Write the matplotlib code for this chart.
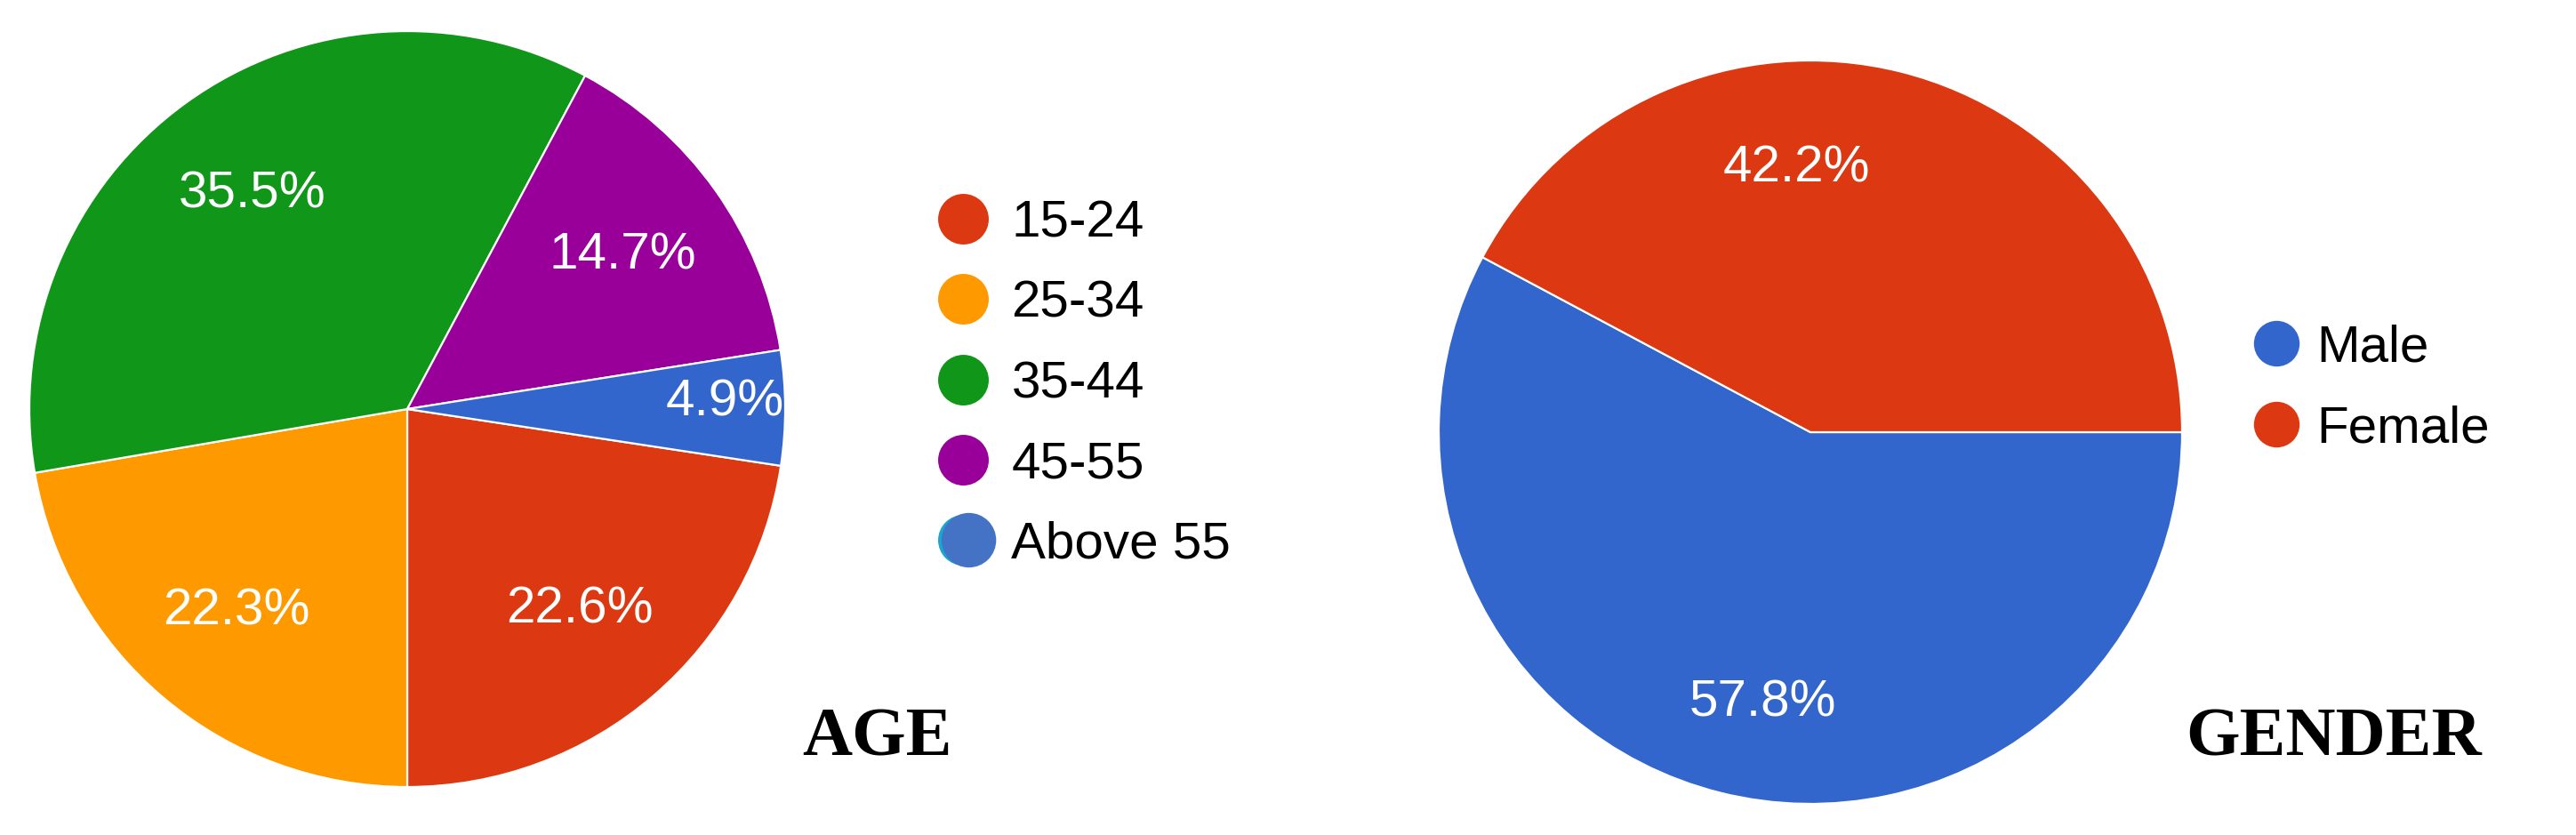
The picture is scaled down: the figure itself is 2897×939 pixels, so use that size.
import numpy as np
import matplotlib.pyplot as plt
from matplotlib.lines import Line2D
from matplotlib.path import Path
from matplotlib.legend_handler import HandlerTuple

plt.rcParams['font.family'] = ['Liberation Sans', 'DejaVu Sans']

# Age data (legend order)
age_labels = ['15-24', '25-34', '35-44', '45-55', 'Above 55']
age_pct = [22.6, 22.3, 35.5, 14.7, 4.9]
age_colors = ['#DC3912', '#FF9900', '#109618', '#990099', '#3366CC']

# Gender data
gender_labels = ['Male', 'Female']
gender_pct = [57.8, 42.2]
gender_colors = ['#3366CC', '#DC3912']

W, H = 2897, 939
fig = plt.figure(figsize=(W / 100, H / 100), dpi=100)


def px_axes(cx, cy, r):
    # axes box in figure fraction from a pixel centre/radius
    return fig.add_axes([(cx - r) / W, (H - cy - r) / H, 2 * r / W, 2 * r / H])


def place_label(txt, wedge, dist, shift=0.0):
    ang = np.deg2rad((wedge.theta1 + wedge.theta2) / 2 + shift)
    txt.set_position((dist * np.cos(ang), dist * np.sin(ang)))


wprops = dict(edgecolor='white', linewidth=1.6)
tprops = dict(color='white', fontsize=42)

# ---- AGE pie ----
ax1 = px_axes(458, 460, 425)
start1 = -90 + 360 * age_pct[0] / 100
wedges1, _, auto1 = ax1.pie(age_pct, colors=age_colors, startangle=start1,
                            counterclock=False, autopct='%.1f%%',
                            pctdistance=0.70, wedgeprops=wprops,
                            textprops=tprops, radius=1)
place_label(auto1[4], wedges1[4], 0.84, 1.0)
ax1.set_xlim(-1, 1)
ax1.set_ylim(-1, 1)
ax1.set_aspect('equal')
ax1.axis('off')

# legend handles; the "Above 55" marker is a blue dot over a cyan one
handles1 = [Line2D([], [], ls='none', marker='o', ms=41, mec='none', mfc=c)
            for c in age_colors[:4]]
circ = Path.circle(center=(0.2, 0.0), radius=1.0)
cyan = Line2D([], [], ls='none', marker='o', ms=41, mec='none', mfc='#1AA6D0')
blue = Line2D([], [], ls='none', marker=circ, ms=53, mec='none', mfc='#4472C4')
handles1.append((cyan, blue))
fig.legend(handles1, age_labels, loc='center left',
           bbox_to_anchor=(1054 / W, (H - 432) / H), frameon=False,
           fontsize=42, handlelength=1.0, handletextpad=0.43,
           labelspacing=0.62, borderpad=0, borderaxespad=0,
           handler_map={tuple: HandlerTuple(ndivide=1)})

# ---- GENDER pie ----
ax2 = px_axes(2036, 486, 418)
start2 = 360 * gender_pct[1] / 100
wedges2, _, auto2 = ax2.pie(gender_pct, colors=gender_colors, startangle=start2,
                            counterclock=True, autopct='%.1f%%',
                            pctdistance=0.73, wedgeprops=wprops,
                            textprops=tprops, radius=1)
place_label(auto2[0], wedges2[0], 0.74, 4)
place_label(auto2[1], wedges2[1], 0.71, 17)
ax2.set_xlim(-1, 1)
ax2.set_ylim(-1, 1)
ax2.set_aspect('equal')
ax2.axis('off')

handles2 = [Line2D([], [], ls='none', marker='o', ms=37, mec='none', mfc=c)
            for c in gender_colors]
fig.legend(handles2, gender_labels, loc='center left',
           bbox_to_anchor=(2531 / W, (H - 437) / H), frameon=False,
           fontsize=42, handlelength=1.0, handletextpad=0.28,
           labelspacing=0.62, borderpad=0, borderaxespad=0)

# captions
fig.text(902 / W, (H - 850) / H, 'AGE', family='Liberation Serif',
         weight='bold', fontsize=56, va='baseline')
fig.text(2458 / W, (H - 850) / H, 'GENDER', family='Liberation Serif',
         weight='bold', fontsize=56, va='baseline')

fig.savefig('out.png', dpi=100, facecolor='white')
